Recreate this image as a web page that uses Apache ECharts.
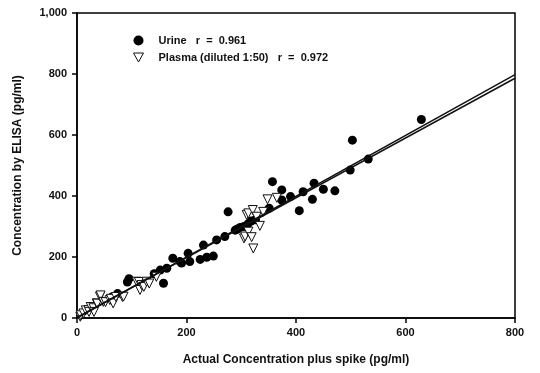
<!DOCTYPE html>
<html>
<head>
<meta charset="utf-8">
<script src="https://cdn.jsdelivr.net/npm/echarts@6/dist/echarts.min.js"></script>
<style>html,body{margin:0;padding:0;background:#fff}#c{width:540px;height:373px}</style>
</head>
<body>
<div id="c"></div>
<script>
var seriesNames = ['Urine', 'Plasma (diluted 1:50)'];
var rValues = ['0.961', '0.972'];
var xTicks = [0, 200, 400, 600, 800];
var yTicks = [0, 200, 400, 600, 800, 1000];

var urine = [
  [64,69],[74,80],[92,118],[95,129],[141,145],[152,157],[158,114],[164,163],
  [175,196],[188,185],[191,180],[203,212],[206,185],[225,192],[237,199],[249,203],
  [231,239],[255,256],[270,267],[276,348],[289,288],[292,291],[298,297],[305,300],
  [312,308],[318,318],[326,322],[351,360],[357,447],[374,420],[374,387],[390,398],
  [406,352],[413,414],[430,389],[433,442],[450,422],[471,417],[499,485],[503,583],
  [532,521],[629,651]
];
var plasma = [
  [6,4],[7,9],[12,15],[16,25],[21,26],[22,20],[25,36],[30,32],[31,20],[36,48],
  [37,47],[42,70],[43,74],[48,53],[52,52],[60,59],[62,63],[66,48],[71,69],[83,69],
  [85,70],[109,119],[113,118],[115,92],[118,108],[122,102],[127,119],[132,113],
  [145,135],[305,261],[307,267],[310,338],[313,283],[313,343],[319,265],[321,354],
  [322,228],[328,332],[334,302],[340,348],[348,389],[365,394]
];
var urineFit = [[0,0],[800,798]];
var plasmaFit = [[0,2],[800,786]];

var chart = echarts.init(document.getElementById('c'), null, {renderer:'canvas'});
var font = 'Liberation Sans, Arial, sans-serif';
var triPath = 'path://M0,0 L10,0 L5,9 Z';
chart.setOption({
  animation: false,
  backgroundColor: '#fff',
  grid: {left: 77, right: 25, top: 13, bottom: 55, show: true, borderColor: '#000', borderWidth: 1.5, backgroundColor: 'transparent'},
  legend: {
    orient: 'vertical', left: 128, top: 30, itemWidth: 10, itemHeight: 10, itemGap: 6,
    textStyle: {fontFamily: font, fontWeight: 'bold', fontSize: 11, color: '#111', padding: [0,0,0,10]},
    formatter: function(n){ var i = seriesNames.indexOf(n); return n + '   r  =  ' + rValues[i]; },
    data: [
      {name: seriesNames[0], icon: 'circle', itemStyle: {color: '#000', opacity: 1}},
      {name: seriesNames[1], icon: triPath, itemStyle: {color: '#fff', borderColor: '#111', borderWidth: 1, opacity: 1}}
    ]
  },
  xAxis: {
    type: 'value', min: xTicks[0], max: xTicks[xTicks.length-1], interval: 200,
    name: 'Actual Concentration plus spike (pg/ml)', nameLocation: 'middle', nameGap: 36,
    nameTextStyle: {fontFamily: font, fontWeight: 'bold', fontSize: 12, color: '#111'},
    axisLine: {show: true, onZero: false, lineStyle: {color: '#000', width: 1.5}},
    axisTick: {show: true, inside: false, length: 5, lineStyle: {color: '#000', width: 1.5}},
    axisLabel: {fontFamily: font, fontWeight: 'bold', fontSize: 11, color: '#111', margin: 9},
    splitLine: {show: false}
  },
  yAxis: {
    type: 'value', min: yTicks[0], max: yTicks[yTicks.length-1], interval: 200,
    name: 'Concentration by ELISA (pg/ml)', nameLocation: 'middle', nameGap: 53,
    nameTextStyle: {fontFamily: font, fontWeight: 'bold', fontSize: 12, color: '#111'},
    axisLine: {show: true, onZero: false, lineStyle: {color: '#000', width: 1.5}},
    axisTick: {show: true, inside: false, length: 5, lineStyle: {color: '#000', width: 1.5}},
    axisLabel: {fontFamily: font, fontWeight: 'bold', fontSize: 11, color: '#111', margin: 10,
      formatter: function(v){ return v >= 1000 ? Math.floor(v/1000) + ',' + String(v%1000).padStart(3,'0') : String(v); }},
    splitLine: {show: false}
  },
  series: [
    {name: seriesNames[0], type: 'scatter', data: urine, symbol: 'circle', symbolSize: 9,
     itemStyle: {color: '#000', opacity: 1}, z: 3},
    {name: seriesNames[1], type: 'scatter', data: plasma, symbol: 'triangle', symbolRotate: 180, symbolSize: 9,
     itemStyle: {color: '#fff', borderColor: '#111', borderWidth: 1, opacity: 1}, z: 4},
    {name: 'fit1', type: 'line', data: urineFit, symbol: 'none', lineStyle: {color: '#111', width: 1.5}, z: 5, silent: true},
    {name: 'fit2', type: 'line', data: plasmaFit, symbol: 'none', lineStyle: {color: '#111', width: 1.5}, z: 5, silent: true}
  ]
});
</script>
</body>
</html>
